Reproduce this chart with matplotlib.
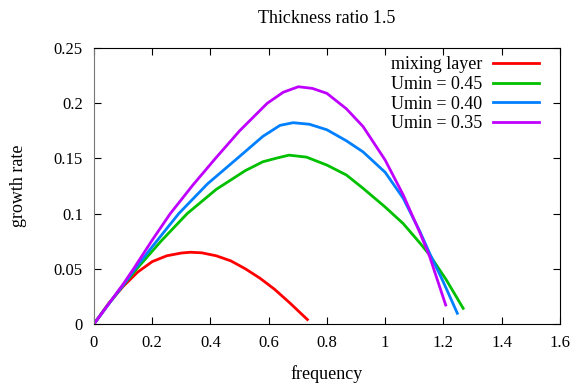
import matplotlib
matplotlib.use("Agg")
import matplotlib.pyplot as plt

# --- data ---
freq_mix = [0, 0.05, 0.1, 0.15, 0.2, 0.25, 0.3, 0.331, 0.37, 0.42, 0.47, 0.52, 0.57,
            0.62, 0.673, 0.705, 0.733]
rate_mix = [0, 0.0185, 0.034, 0.047, 0.0565, 0.0618, 0.0643, 0.065, 0.0645, 0.0618, 0.0572,
            0.050, 0.0415, 0.0315, 0.019, 0.011, 0.004]

freq_045 = [0, 0.05, 0.1, 0.147, 0.23, 0.32, 0.42, 0.52, 0.58, 0.63, 0.67, 0.73, 0.8,
            0.867, 0.924, 1.0, 1.062, 1.119, 1.153, 1.21, 1.268]
rate_045 = [0, 0.018, 0.035, 0.05, 0.075, 0.1, 0.122, 0.139, 0.147, 0.1505, 0.153, 0.1512,
            0.144, 0.135, 0.123, 0.106, 0.091, 0.0735, 0.0625, 0.040, 0.0142]

freq_040 = [0, 0.05, 0.1, 0.141, 0.2, 0.291, 0.39, 0.492, 0.58, 0.639, 0.684, 0.74, 0.8,
            0.867, 0.924, 1.0, 1.062, 1.119, 1.153, 1.2, 1.248]
rate_040 = [0, 0.018, 0.035, 0.05, 0.07, 0.1, 0.127, 0.15, 0.170, 0.180, 0.1824, 0.181,
            0.176, 0.166, 0.156, 0.1375, 0.114, 0.084, 0.064, 0.038, 0.0097]

freq_035 = [0, 0.05, 0.1, 0.136, 0.2, 0.262, 0.34, 0.417, 0.5, 0.595, 0.65, 0.702, 0.75,
            0.8, 0.867, 0.924, 1.0, 1.062, 1.119, 1.153, 1.208]
rate_035 = [0, 0.018, 0.036, 0.05, 0.076, 0.1, 0.126, 0.15, 0.175, 0.2, 0.21, 0.215, 0.2135,
            0.209, 0.195, 0.179, 0.1486, 0.117, 0.083, 0.061, 0.0172]

labels = ["mixing layer", "Umin = 0.45", "Umin = 0.40", "Umin = 0.35"]
colors = ["#ff0000", "#00c000", "#0080ff", "#c000ff"]

plt.rcParams['font.family'] = ['Liberation Serif', 'DejaVu Serif']
plt.rcParams['font.size'] = 12

fig = plt.figure(figsize=(5.73, 3.88), dpi=100)
ax = fig.add_axes([0.164, 0.165, 0.813, 0.711])

series = [(freq_mix, rate_mix), (freq_045, rate_045), (freq_040, rate_040), (freq_035, rate_035)]
for (x, y), lab, c in zip(series, labels, colors):
    ax.plot(x, y, color=c, lw=2, label=lab, solid_joinstyle='round')

ax.set_xlim(0, 1.6)
ax.set_ylim(0, 0.25)
ax.set_xticks([0, 0.2, 0.4, 0.6, 0.8, 1, 1.2, 1.4, 1.6])
ax.set_xticklabels(["0", "0.2", "0.4", "0.6", "0.8", "1", "1.2", "1.4", "1.6"])
ax.set_yticks([0, 0.05, 0.1, 0.15, 0.2, 0.25])
ax.set_yticklabels(["0", "0.05", "0.1", "0.15", "0.2", "0.25"])
ax.tick_params(direction="in", top=True, right=True, length=5, pad=8)
ax.spines['left'].set_color('#777777')

ax.set_xlabel("frequency", fontsize=13, labelpad=10)
ax.set_ylabel("growth rate", fontsize=13, labelpad=19)
ax.set_title("Thickness ratio 1.5", fontsize=13, pad=18)

ax.legend(loc="upper right", bbox_to_anchor=(0.955, 0.971), frameon=False,
          markerfirst=False, fontsize=13, handlelength=2.55, labelspacing=0.15,
          borderpad=0, borderaxespad=0, handletextpad=0.6)

fig.savefig("out.png", dpi=100)
